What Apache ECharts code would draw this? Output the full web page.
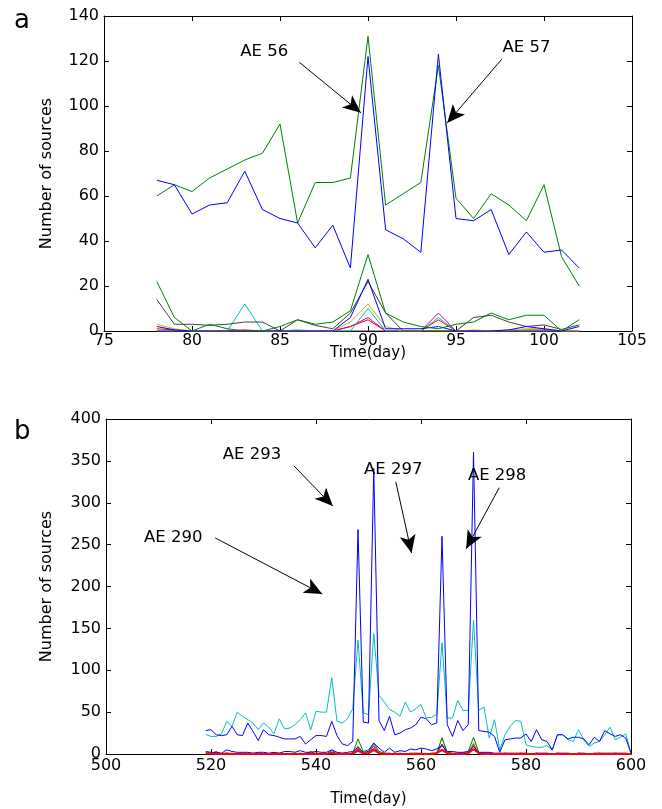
<!DOCTYPE html>
<html>
<head>
<meta charset="utf-8">
<script src="https://cdn.jsdelivr.net/npm/echarts@6/dist/echarts.min.js"></script>
<style>
html,body{margin:0;padding:0;background:#fff;}
#chart{width:662px;height:809px;}
</style>
</head>
<body>
<div id="chart"></div>
<script>
// ---------- Panel a data ----------
const daysA = [78,79,80,81,82,83,84,85,86,87,88,89,90,91,92,93,94,95,96,97,98,99,100,101,102];
const greenA1 = [60,65,62,68,72,76,79,92,48,66,66,68,131,56,61,66,118,59,50,61,56,49,65,33,20];
const blueA1  = [67,65,52,56,57,71,54,50,48,37,47,28,122,45,41,35,123,50,49,54,34,44,35,36,28];
const greenA2 = [22,6,0,3,1,0,0,2,5,3,4,9,34,8,4,2,1,3,4,8,5,7,7,0,5];
const grayA   = [14,3,3,2.5,3,4,4,0,5,2.5,1,8,22,8,0,0,0,0,6,7,4,2,2.7,0.7,2.7];
const blueA2  = [2,0.5,0,0,0,0,0,0,0,0,0,6,23,1,1,1,2,0,0,0,0.5,2,1,0,2];
const yellowA = [3,1,0,0,0,0,0,0,0,0,0,4,12,2,0,0,0,0,0.5,0,0.5,1,1,0,0];
const cyanA   = [0,0,0,0,0,12,0,0,0.5,0,0,0,10,0,0,0,6,0,0,0,0,0,0,0,0];
const magentaA= [0,0,0,0,0,0,0,0,0,0,0,2,6,0,0,0,8,0,0,0,0,0,0,0,0];
const redA    = [1,0.5,0,0,0,0.5,0,0,0,0,0,2,5,0,0,0,5,0,0,0,0,0.5,0.5,0,0];
const purpleA = [0,0,0,0,0,0,0,0,0,0,0,0,0,0,0,0,0,0,0,0,0,0,0,0,0];

// ---------- Panel b data ----------
const daysB = [519,520,521,522,523,524,525,526,527,528,529,530,531,532,533,534,535,536,537,538,
  539,540,541,542,543,544,545,546,547,548,549,550,551,552,553,554,555,556,557,558,
  559,560,561,562,563,564,565,566,567,568,569,570,571,572,573,574,575,576,577,578,
  579,580,581,582,583,584,585,586,587,588,589,590,591,592,593,594,595,596,597,598,599,600];
const cyanB = [23.5,21,21,24,39,33,50,45,41,37,29,37,32,24,42,30,31,35,41,49,
  29,51,50,50,91,39,37,42,54,136,49,47,144,70,62,53,50,45,62,50,
  54,59,43,44,47,133,43,43,64,52,52,160,52,56,19,41,5,23,33,40,
  39,11,9,8,8,10,5,23,23,17,15,29,17,9,13,15,23,32,17,20,24,1];
const blueB = [28,29,23,22,23,33,23,22,37,27,16,29,23,22,20,18,18,18,21,12,
  17,22,22,21,39,22,12,10,15,268,38,37,341,40,28,45,23,25,29,31,
  35,44,42,35,37,260,35,21,40,28,35,360,28,27,26,21,2,17,18,19,
  19,24,15,29,17,15,5,23,23,18,20,20,18,11,20,15,28,24,21,23,19,1];
const blue2B = [3,2,2,1,5,3,2,2,2,1,2,2,1,2,1,3,3,2,4,2,
  2,3,2,2,5,2,1,2,3,8,2,3,13,7,2,7,2,4,3,6,
  5,7,6,4,6,10,3,3,2,2,3,9,2,2,2,1,1,1,1,1,
  1,1,0,1,1,1,0,1,1,1,0,1,1,0,1,1,1,1,1,1,1,0];
const greenB = [1,1,0,0,1,0,0,1,0,0,1,0,0,0,1,0,0,0,1,0,
  0,1,0,0,2,0,1,0,1,18,3,5,13,3,1,1,0,1,0,1,
  1,1,0,1,1,19,2,1,1,1,3,20,2,1,1,0,0,1,0,0,
  1,0,0,1,0,0,0,1,0,0,0,1,0,0,0,1,0,0,1,0,0,0];
const yellowB = [2,1,1,0,0,1,0,0,0,1,0,0,0,1,0,0,0,1,0,0,
  0,0,1,0,1,0,0,0,1,10,1,2,9,1,0,0,1,0,0,0,
  1,0,0,0,1,20,1,0,0,1,1,14,1,0,0,0,0,0,0,0,
  0,0,0,0,0,0,0,0,0,0,0,0,0,0,0,0,0,0,0,0,0,0];
const magentaB = [0,0,0,0,0,0,0,0,0,0,0,0,0,0,0,0,0,0,0,0,
  0,0,0,0,1,0,0,0,0,6,0,1,10,1,0,0,0,0,0,0,
  0,0,0,0,0,12,0,0,0,0,0,10,0,0,0,0,0,0,0,0,
  0,0,0,0,0,0,0,0,0,0,0,0,0,0,0,0,0,0,0,0,0,0];
const grayB = [0,0,3,0,0,0,0,0,0,0,0,0,0,0,0,0,0,0,0,0,
  3,0,0,0,4,0,0,0,1,8,1,1,7,1,0,0,0,0,0,0,
  0,0,0,0,1,11,1,0,0,0,1,12,1,0,0,0,0,0,0,0,
  0,0,0,0,0,0,0,0,0,0,0,0,0,0,0,0,0,0,0,0,0,0];
const redB = [0.5,0.5,0,0,0.5,0,0,0,0,0,0,0,0,0,0,0,0,0,0,0,
  0,0,0,0,1,0,0,0,0.5,4,0.5,1,5,1,0,0,0,0,0,0,
  0,0,0,0,1,5,1,0,0,0,1,6,1,0,0,0,0,0,0,0,
  0,0,0,0,0,0,0,0,0,0,0,0,0,0,0,0,0,0,0,0,0,0];

// ---------- Annotations (data coordinates) ----------
const annA = [
  {text:'AE 56', at:[84.1,124.3], from:[86.1,119.4], to:[89.6,97.0]},
  {text:'AE 57', at:[99.0,126.1], from:[97.6,120.8], to:[94.5,92.5]}
];
const annB = [
  {text:'AE 293', at:[527.8,357], from:[535.8,344], to:[543.2,296]},
  {text:'AE 290', at:[512.8,258], from:[520.8,258], to:[541.2,191]},
  {text:'AE 297', at:[554.7,339], from:[555.2,325], to:[558.2,240]},
  {text:'AE 298', at:[574.5,332], from:[574.9,318], to:[568.6,245]}
];

const FONT = 'DejaVu Sans, Liberation Sans, Arial, sans-serif';
const C = {blue:'#0000ff', green:'#008000', red:'#ff0000', cyan:'#00bfbf', magenta:'#bf00bf', yellow:'#bfbf00', gray:'#404040', purple:'#5a2a6a'};

function pairs(xs, ys){ return xs.map((x,i)=>[x, ys[i]]); }
function line(name, xs, ys, color, idx, width, extra){
  return Object.assign({
    name, type:'line', xAxisIndex:idx, yAxisIndex:idx, data:pairs(xs,ys),
    symbol:'none', showSymbol:false, animation:false, silent:true,
    lineStyle:{color, width:width||1}, itemStyle:{color}
  }, extra||{});
}
function markers(anns){
  return {
    markLine:{
      silent:true, animation:false,
      symbol:['none','arrow'], symbolSize:[12,18],
      lineStyle:{color:'#000', width:1, type:'solid'},
      label:{show:false},
      data: anns.map(a=>[{coord:a.from},{coord:a.to}])
    },
    markPoint:{
      silent:true, animation:false,
      symbol:'rect', symbolSize:1, itemStyle:{color:'rgba(0,0,0,0)'},
      label:{show:true, position:'inside', formatter:'{b}', color:'#000', fontSize:16.5, fontFamily:FONT},
      data: anns.map(a=>({name:a.text, coord:a.at}))
    }
  };
}

const axisCommon = {
  axisLine:{show:true, onZero:false, lineStyle:{color:'#000', width:1}},
  axisTick:{show:true, inside:true, length:5, lineStyle:{color:'#000'}},
  splitLine:{show:false},
  axisLabel:{color:'#000', fontSize:16, fontFamily:FONT}
};
function xAx(grid, min, max, interval, pos, margin, nameGap, fs){
  const a = Object.assign({}, axisCommon, {gridIndex:grid, type:'value', min, max, interval, position:pos});
  if(pos==='top'){ a.axisLabel = {show:false}; }
  else {
    a.axisLabel = Object.assign({}, axisCommon.axisLabel, {margin, fontSize:fs});
    a.name='Time(day)'; a.nameLocation='middle'; a.nameGap=nameGap; a.nameMoveOverlap=false;
    a.nameTextStyle={color:'#000', fontSize:15, fontFamily:FONT};
  }
  return a;
}
function yAx(grid, min, max, interval, pos, nameGap){
  const a = Object.assign({}, axisCommon, {gridIndex:grid, type:'value', min, max, interval, position:pos});
  if(pos==='right'){ a.axisLabel = {show:false}; }
  else {
    a.axisLabel = Object.assign({}, axisCommon.axisLabel, {margin:5});
    a.name='Number of sources'; a.nameLocation='middle'; a.nameGap=nameGap; a.nameMoveOverlap=false;
    a.nameTextStyle={color:'#000', fontSize:16, fontFamily:FONT};
  }
  return a;
}

const option = {
  backgroundColor:'#fff',
  animation:false,
  textStyle:{fontFamily:FONT},
  title:[
    {text:'a', left:9, top:3, textStyle:{fontSize:26, fontWeight:'normal', color:'#000', fontFamily:FONT}},
    {text:'b', left:9, top:414, textStyle:{fontSize:26, fontWeight:'normal', color:'#000', fontFamily:FONT}}
  ],
  grid:[
    {left:104, top:16, width:528, height:315},
    {left:106, top:419, width:525, height:335}
  ],
  xAxis:[
    xAx(0,75,105,5,'bottom',2,15,15.5),
    xAx(0,75,105,5,'top'),
    xAx(1,500,600,20,'bottom',4,38,16),
    xAx(1,500,600,20,'top')
  ],
  yAxis:[
    yAx(0,0,140,20,'left',49),
    yAx(0,0,140,20,'right'),
    yAx(1,0,400,50,'left',51),
    yAx(1,0,400,50,'right')
  ],
  series:[
    line('purpleA', daysA, purpleA, C.purple, 0),
    line('redA', daysA, redA, C.red, 0),
    line('magentaA', daysA, magentaA, C.magenta, 0),
    line('cyanA', daysA, cyanA, C.cyan, 0),
    line('yellowA', daysA, yellowA, C.yellow, 0),
    line('grayA', daysA, grayA, C.gray, 0),
    line('blueA2', daysA, blueA2, C.blue, 0),
    line('greenA2', daysA, greenA2, C.green, 0),
    line('greenA1', daysA, greenA1, C.green, 0),
    line('blueA1', daysA, blueA1, C.blue, 0, 1, markers(annA)),
  ]
};
function lineB(name, ys, color, width, extra){
  return line(name, daysB, ys, color, 2, width, extra);
}
option.series.push(
  lineB('cyanB', cyanB, C.cyan, 1),
  lineB('blueB', blueB, C.blue, 1, markers(annB)),
  lineB('grayB', grayB, C.gray, 1),
  lineB('yellowB', yellowB, C.yellow, 1),
  lineB('magentaB', magentaB, C.magenta, 1),
  lineB('greenB', greenB, C.green, 1),
  lineB('blue2B', blue2B, C.blue, 1),
  lineB('redB', redB, C.red, 2)
);

const chart = echarts.init(document.getElementById('chart'), null, {renderer:'canvas'});
chart.setOption(option);
</script>
</body>
</html>
